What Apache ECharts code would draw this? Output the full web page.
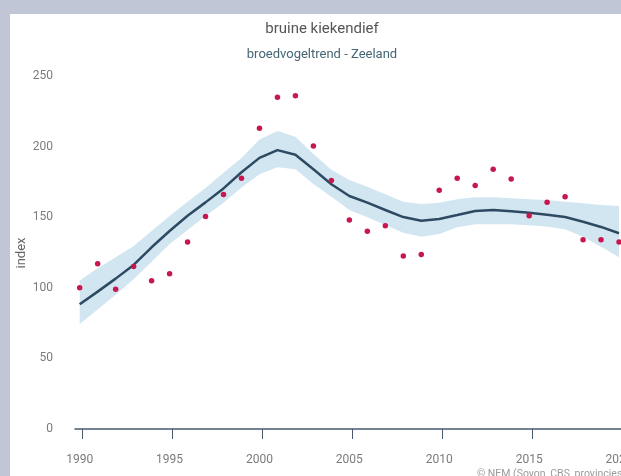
<!DOCTYPE html>
<html>
<head>
<meta charset="utf-8">
<script src="https://cdn.jsdelivr.net/npm/echarts@6/dist/echarts.min.js"></script>
<style>
html,body{margin:0;padding:0;background:#c1c6d6;overflow:hidden;width:621px;height:476px}
#chart{position:absolute;left:10px;top:14px;width:700px;height:462px;background:#fff}
</style>
</head>
<body>
<div id="chart"></div>
<script>
var years = [1990,1991,1992,1993,1994,1995,1996,1997,1998,1999,2000,2001,2002,2003,2004,2005,
             2006,2007,2008,2009,2010,2011,2012,2013,2014,2015,2016,2017,2018,2019,2020];
var index = [100,117,99,115,105,110,132.5,150.5,166,177.5,213,235,236,200.5,176,148,
             140,144,122.5,123.5,169,177.5,172.5,184,177,151,160.5,164.5,134,134,132.5];
var trend = [88.4,97.3,106.5,116.2,128.7,140.2,151,160.5,170.4,181.8,192,197.5,194.2,183.9,173.3,165,
             160.3,155.1,150.1,147.5,148.7,151.5,154.4,155.1,154.2,153.2,151.8,150.1,146.8,143.1,138.6];
var upper = [105.1,113.9,121.6,129.6,140.2,150.8,161,170.6,181.5,192,205,211,207,194.7,183.6,176.3,
             171.6,166.2,161,159.3,160.3,162.7,164.1,164.1,163.4,162.7,162.2,161,159.8,158.6,157.9];
var lower = [74.3,84.6,95,106.1,118.5,131,141,150.8,160.3,171,180.5,185.3,183.9,173.5,164.5,155.1,
             149.9,144.5,139,136.2,138.1,142.8,145,145,145,144.3,143.3,141.4,136.2,129.1,121.6];
var xTicks = [1990,1995,2000,2005,2010,2015,2020];

var fnt = 'Roboto, "Noto Sans", sans-serif';
var myChart = echarts.init(document.getElementById('chart'));

function pairs(arr) {
    return years.map(function (y, i) { return [y, arr[i]]; });
}

// betrouwbaarheidsband als een polygoon
function renderBand(params, api) {
    if (params.dataIndex !== 0) return;
    var pts = [];
    for (var i = 0; i < years.length; i++) pts.push(api.coord([years[i], upper[i]]));
    for (var j = years.length - 1; j >= 0; j--) pts.push(api.coord([years[j], lower[j]]));
    return {type: 'polygon', shape: {points: pts}, style: {fill: '#d2e6f2'}};
}

var option = {
    animation: false,
    backgroundColor: '#fff',
    title: [
        {text: 'bruine kiekendief', left: 307, top: 3, textAlign: 'center',
         textStyle: {fontFamily: fnt, fontSize: 15, fontWeight: 'normal', color: '#555'}},
        {text: 'broedvogeltrend - Zeeland', left: 307, top: 29, textAlign: 'center',
         textStyle: {fontFamily: fnt, fontSize: 13, fontWeight: 'normal', color: '#456575'}}
    ],
    grid: {left: 65, top: 62, right: 73, bottom: 47, containLabel: false, outerBoundsMode: 'none'},
    xAxis: [
        {
            type: 'value', min: 1989.739, max: 2021, position: 'bottom',
            axisLine: {show: false}, axisTick: {show: false}, splitLine: {show: false},
            axisLabel: {customValues: xTicks, margin: 25, color: '#7b7b7b', fontFamily: fnt, fontSize: 12,
                        formatter: function (v) { return String(v); }}
        },
        {
            type: 'value', min: 1989.572, max: 2020.833, position: 'bottom',
            axisLine: {lineStyle: {color: '#46586c', width: 1.5}},
            axisTick: {customValues: xTicks, length: 10, lineStyle: {color: '#46586c', width: 1}},
            axisLabel: {show: false}, splitLine: {show: false}
        }
    ],
    yAxis: {
        type: 'value', min: 0, max: 250, interval: 50,
        axisLine: {show: false}, axisTick: {show: false}, splitLine: {show: false},
        axisLabel: {margin: 22, color: '#7b7b7b', fontFamily: fnt, fontSize: 12}
    },
    series: [
        {
            name: 'betrouwbaarheid', type: 'custom', renderItem: renderBand,
            data: years.map(function (y, i) { return [y, lower[i], upper[i]]; }),
            encode: {x: 0, y: [1, 2]}, silent: true, z: 1
        },
        {
            name: 'trend', type: 'line', data: pairs(trend), symbol: 'none',
            lineStyle: {color: '#2e4a62', width: 2.5}, z: 3
        },
        {
            name: 'index', type: 'scatter', data: pairs(index), symbolSize: 5.5,
            itemStyle: {color: '#c8174f', opacity: 1}, z: 4
        }
    ],
    graphic: [
        // as-titel
        {type: 'text', x: 12, y: 239, rotation: Math.PI / 2,
         style: {text: 'index', fill: '#666', font: '13px ' + fnt, align: 'center', verticalAlign: 'middle'}},
        {type: 'text', left: 467, top: 455,
         style: {text: '© NEM (Sovon, CBS, provincies)', fill: '#9a9a9a', font: '10.5px ' + fnt}}
    ]
};
myChart.setOption(option);
</script>
</body>
</html>
